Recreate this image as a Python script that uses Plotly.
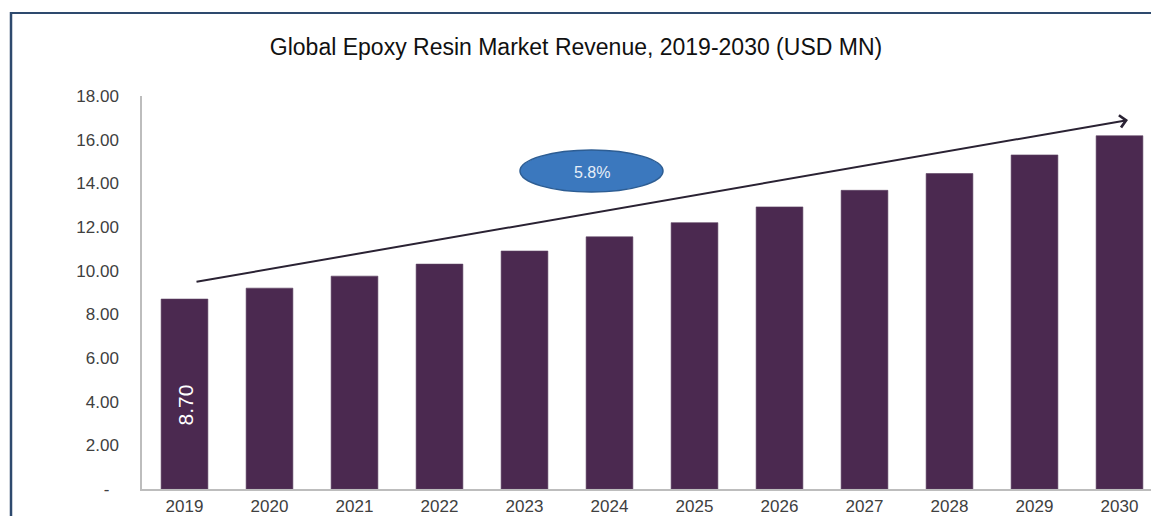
import plotly.graph_objects as go

# Global epoxy resin market revenue (USD MN)
years = ["2019", "2020", "2021", "2022", "2023", "2024",
         "2025", "2026", "2027", "2028", "2029", "2030"]
revenue = [8.70, 9.20, 9.75, 10.30, 10.90, 11.55,
           12.20, 12.92, 13.68, 14.45, 15.30, 16.18]
cagr_label = "5.8%"

y_tick_vals = [0, 2, 4, 6, 8, 10, 12, 14, 16, 18]
y_tick_text = ["-\u00a0\u00a0", "2.00", "4.00", "6.00", "8.00", "10.00",
               "12.00", "14.00", "16.00", "18.00"]

W, H = 1151, 516
L, R, T, B = 142, 0, 96, 27
plot_w = W - L - R
plot_h = H - T - B
step = 85.0  # pixels per category


def px_to_x(px):
    return (px - L) / step - 0.5


def py_to_y(py):
    return (H - B - py) / plot_h * 18.0


def px_to_paper(px):
    return (px - L) / plot_w


def py_to_paper(py):
    return (H - B - py) / plot_h


bar_color = "#4B2950"
x_idx = list(range(len(years)))

fig = go.Figure()
fig.add_trace(go.Bar(
    x=x_idx,
    y=revenue,
    width=0.55,
    marker=dict(color=bar_color, line=dict(color="#5d4262", width=0.6)),
    hoverinfo="x+y",
))

annotations = [
    # value label inside the first bar
    dict(
        x=x_idx[0], y=py_to_y(405), xref="x", yref="y",
        text=f"{revenue[0]:.2f}", showarrow=False, textangle=-90,
        font=dict(family="Liberation Sans, Arial, sans-serif", size=21, color="white"),
    ),
    # growth trend arrow
    dict(
        x=px_to_x(1128), y=py_to_y(120), xref="x", yref="y",
        ax=px_to_x(195), ay=py_to_y(282), axref="x", ayref="y",
        text="", showarrow=True, arrowhead=4, arrowsize=1.2, arrowwidth=2,
        arrowcolor="#2a2233", standoff=0, startstandoff=0,
    ),
    # CAGR badge text
    dict(
        x=px_to_x(591.5), y=py_to_y(172), xref="x", yref="y",
        text=cagr_label, showarrow=False,
        font=dict(family="Liberation Sans, Arial, sans-serif", size=16, color="#e6eef8"),
    ),
]

shapes = [
    # CAGR badge
    dict(
        type="circle", xref="x", yref="y",
        x0=px_to_x(520), x1=px_to_x(663), y0=py_to_y(192), y1=py_to_y(150),
        fillcolor="#3B78BE", line=dict(color="#2D5D93", width=1.5), layer="above",
    ),
    # frame lines
    dict(
        type="line", xref="paper", yref="paper",
        x0=px_to_paper(11), x1=px_to_paper(1160), y0=py_to_paper(13), y1=py_to_paper(13),
        line=dict(color="#2E4A6E", width=2),
    ),
    dict(
        type="line", xref="paper", yref="paper",
        x0=px_to_paper(11), x1=px_to_paper(11), y0=py_to_paper(12), y1=py_to_paper(530),
        line=dict(color="#2E4A6E", width=2.5),
    ),
]

fig.update_layout(
    width=W, height=H,
    margin=dict(l=L, r=R, t=T, b=B, pad=0, autoexpand=False),
    paper_bgcolor="white", plot_bgcolor="white",
    showlegend=False,
    title=dict(
        text="Global Epoxy Resin Market Revenue, 2019-2030 (USD MN)",
        x=576 / W, xref="container", xanchor="center",
        y=1 - 47 / H, yref="container", yanchor="middle",
        font=dict(family="Liberation Sans, Arial, sans-serif", size=23, color="#111111"),
    ),
    annotations=annotations,
    shapes=shapes,
    bargap=0.45,
)

fig.update_xaxes(
    range=[-0.5, px_to_x(W)],
    tickvals=x_idx, ticktext=years,
    showgrid=False, zeroline=False, automargin=False,
    showline=True, linecolor="#bdbdbd", linewidth=1.5,
    ticks="", ticklabelstandoff=1,
    tickfont=dict(family="Liberation Sans, Arial, sans-serif", size=17, color="#404040"),
    fixedrange=True,
)
fig.update_yaxes(
    range=[0, 18],
    tickvals=y_tick_vals, ticktext=y_tick_text,
    showgrid=False, zeroline=False, automargin=False,
    showline=True, linecolor="#bdbdbd", linewidth=1.5,
    ticks="", ticklabelstandoff=18,
    tickfont=dict(family="Liberation Sans, Arial, sans-serif", size=17, color="#404040"),
    fixedrange=True,
)

fig.write_html("out.html", config={"displayModeBar": False})
